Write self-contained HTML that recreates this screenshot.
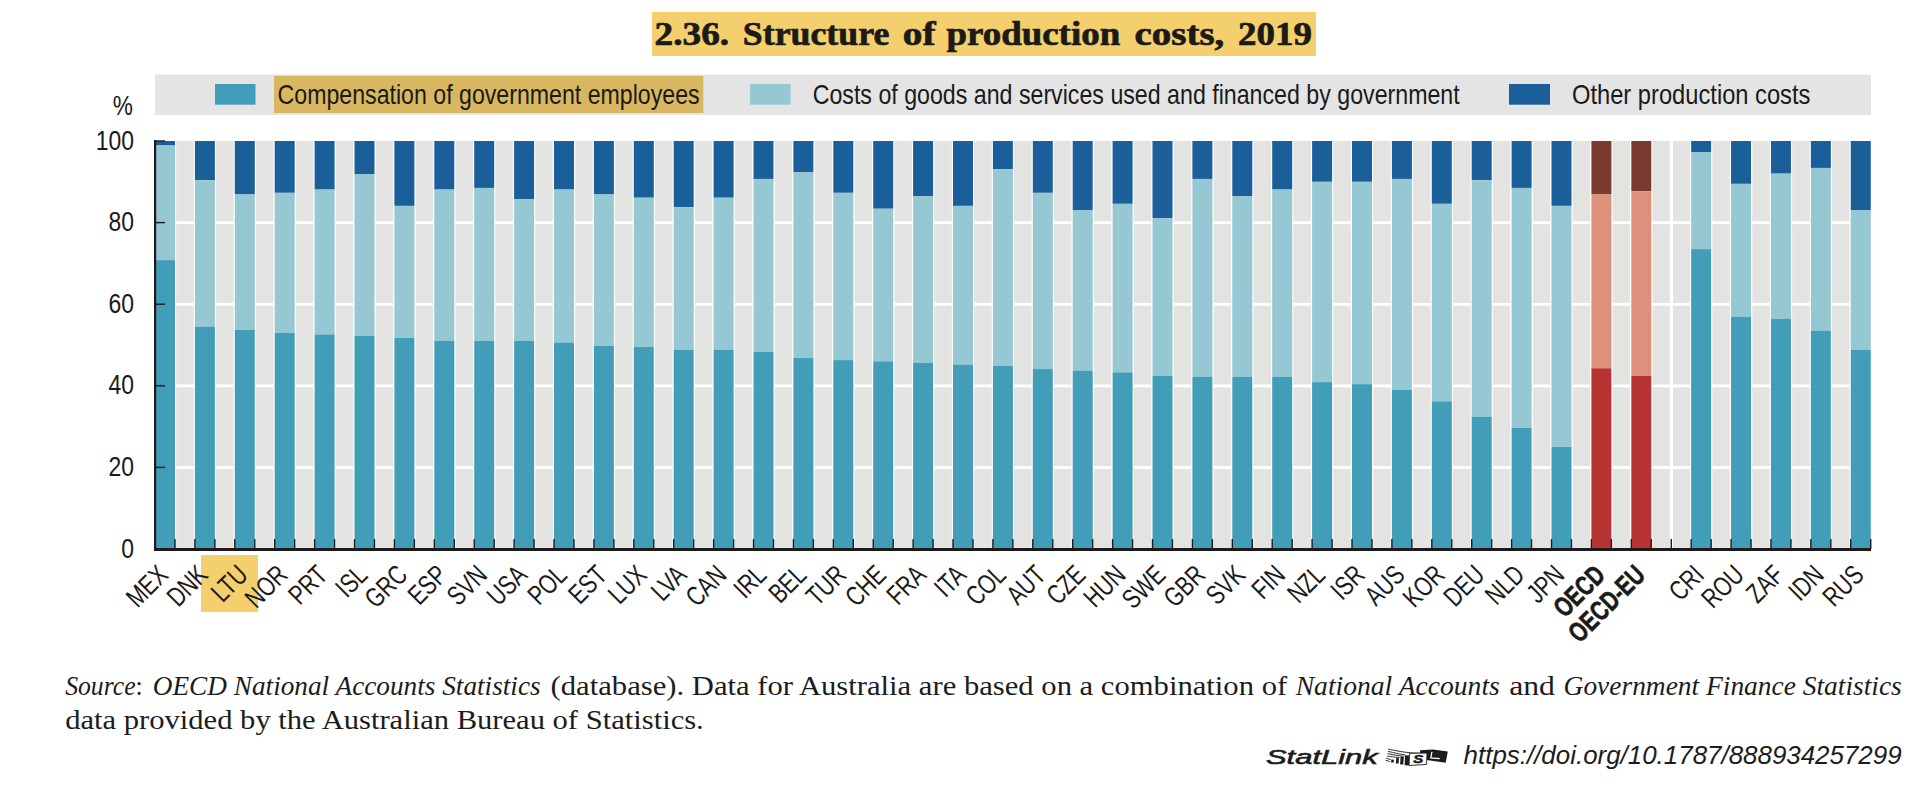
<!DOCTYPE html>
<html><head><meta charset="utf-8"><style>
html,body{margin:0;padding:0;background:#fff;}
body{width:1928px;height:786px;overflow:hidden;position:relative;}
svg{position:absolute;left:0;top:0;}
.yl{font-family:"Liberation Sans",sans-serif;font-size:27px;fill:#1a1a1a;}
.xl{font-family:"Liberation Sans",sans-serif;font-size:27.5px;fill:#1a1a1a;}
.b{font-weight:bold;font-size:27.5px;stroke:#1a1a1a;stroke-width:0.6px;}
.lg{font-family:"Liberation Sans",sans-serif;font-size:28px;fill:#1a1a1a;}
.ti{font-family:"Liberation Serif",serif;font-size:34px;font-weight:bold;fill:#1c1a17;stroke:#1c1a17;stroke-width:0.7px;}
.src{font-family:"Liberation Serif",serif;font-size:27px;fill:#1c1c1c;}
.it{font-style:italic;}
.url{font-family:"Liberation Sans",sans-serif;font-style:italic;font-size:25px;fill:#1c1c1c;}
.sl{font-family:"Liberation Sans",sans-serif;font-style:italic;font-size:21px;fill:#1c1c1c;stroke:#1c1c1c;stroke-width:0.6px;}
</style></head><body>
<svg width="1928" height="786" viewBox="0 0 1928 786">
<rect x="652" y="12" width="664" height="44" fill="#f3cf6e"/>
<text class="ti" x="654.6" y="45.1" textLength="74.6" lengthAdjust="spacingAndGlyphs">2.36.</text>
<text class="ti" x="742.8" y="45.1" textLength="146.5" lengthAdjust="spacingAndGlyphs">Structure</text>
<text class="ti" x="902.8" y="45.1" textLength="32.7" lengthAdjust="spacingAndGlyphs">of</text>
<text class="ti" x="946.4" y="45.1" textLength="173.8" lengthAdjust="spacingAndGlyphs">production</text>
<text class="ti" x="1134.6" y="45.1" textLength="89.7" lengthAdjust="spacingAndGlyphs">costs,</text>
<text class="ti" x="1238.1" y="45.1" textLength="73.9" lengthAdjust="spacingAndGlyphs">2019</text>

<rect x="155" y="74.5" width="1716" height="40.5" fill="#e4e4e4"/>
<rect x="215" y="84" width="40.5" height="20.7" fill="#429db8"/>
<rect x="274" y="76" width="429.3" height="37" fill="#d9b760"/>
<rect x="750" y="84" width="40.6" height="20.7" fill="#95c8d3"/>
<rect x="1509" y="84" width="41" height="20.7" fill="#1a5e9a"/>
<text class="lg" x="277.6" y="104.4" textLength="422" lengthAdjust="spacingAndGlyphs">Compensation of government employees</text>
<text class="lg" x="812.7" y="104.4" textLength="647" lengthAdjust="spacingAndGlyphs">Costs of goods and services used and financed by government</text>
<text class="lg" x="1572" y="104.4" textLength="238.4" lengthAdjust="spacingAndGlyphs">Other production costs</text>
<rect x="155" y="141.0" width="1716" height="408.0" fill="#e3e3e2"/>
<rect x="155" y="466.10" width="1716" height="2.8" fill="#fff"/>
<rect x="155" y="384.50" width="1716" height="2.8" fill="#fff"/>
<rect x="155" y="302.90" width="1716" height="2.8" fill="#fff"/>
<rect x="155" y="221.30" width="1716" height="2.8" fill="#fff"/>
<rect x="1670.00" y="141.0" width="3" height="408.0" fill="#fff"/>
<rect x="153.80" y="141.0" width="22.40" height="408.0" fill="#fff"/>
<rect x="155.00" y="141.0" width="20.0" height="4.49" fill="#1a5e9a"/>
<rect x="155.00" y="145.49" width="20.0" height="114.65" fill="#95c8d3"/>
<rect x="155.00" y="260.14" width="20.0" height="288.86" fill="#429db8"/>
<rect x="193.70" y="141.0" width="22.40" height="408.0" fill="#fff"/>
<rect x="194.90" y="141.0" width="20.0" height="39.17" fill="#1a5e9a"/>
<rect x="194.90" y="180.17" width="20.0" height="146.47" fill="#95c8d3"/>
<rect x="194.90" y="326.64" width="20.0" height="222.36" fill="#429db8"/>
<rect x="233.60" y="141.0" width="22.40" height="408.0" fill="#fff"/>
<rect x="234.80" y="141.0" width="20.0" height="53.45" fill="#1a5e9a"/>
<rect x="234.80" y="194.45" width="20.0" height="135.46" fill="#95c8d3"/>
<rect x="234.80" y="329.90" width="20.0" height="219.10" fill="#429db8"/>
<rect x="273.50" y="141.0" width="22.40" height="408.0" fill="#fff"/>
<rect x="274.70" y="141.0" width="20.0" height="51.82" fill="#1a5e9a"/>
<rect x="274.70" y="192.82" width="20.0" height="139.94" fill="#95c8d3"/>
<rect x="274.70" y="332.76" width="20.0" height="216.24" fill="#429db8"/>
<rect x="313.40" y="141.0" width="22.40" height="408.0" fill="#fff"/>
<rect x="314.60" y="141.0" width="20.0" height="48.55" fill="#1a5e9a"/>
<rect x="314.60" y="189.55" width="20.0" height="144.84" fill="#95c8d3"/>
<rect x="314.60" y="334.39" width="20.0" height="214.61" fill="#429db8"/>
<rect x="353.30" y="141.0" width="22.40" height="408.0" fill="#fff"/>
<rect x="354.50" y="141.0" width="20.0" height="33.05" fill="#1a5e9a"/>
<rect x="354.50" y="174.05" width="20.0" height="161.98" fill="#95c8d3"/>
<rect x="354.50" y="336.02" width="20.0" height="212.98" fill="#429db8"/>
<rect x="393.20" y="141.0" width="22.40" height="408.0" fill="#fff"/>
<rect x="394.40" y="141.0" width="20.0" height="64.87" fill="#1a5e9a"/>
<rect x="394.40" y="205.87" width="20.0" height="131.78" fill="#95c8d3"/>
<rect x="394.40" y="337.66" width="20.0" height="211.34" fill="#429db8"/>
<rect x="433.10" y="141.0" width="22.40" height="408.0" fill="#fff"/>
<rect x="434.30" y="141.0" width="20.0" height="48.55" fill="#1a5e9a"/>
<rect x="434.30" y="189.55" width="20.0" height="151.37" fill="#95c8d3"/>
<rect x="434.30" y="340.92" width="20.0" height="208.08" fill="#429db8"/>
<rect x="473.00" y="141.0" width="22.40" height="408.0" fill="#fff"/>
<rect x="474.20" y="141.0" width="20.0" height="46.92" fill="#1a5e9a"/>
<rect x="474.20" y="187.92" width="20.0" height="153.00" fill="#95c8d3"/>
<rect x="474.20" y="340.92" width="20.0" height="208.08" fill="#429db8"/>
<rect x="512.90" y="141.0" width="22.40" height="408.0" fill="#fff"/>
<rect x="514.10" y="141.0" width="20.0" height="58.34" fill="#1a5e9a"/>
<rect x="514.10" y="199.34" width="20.0" height="141.58" fill="#95c8d3"/>
<rect x="514.10" y="340.92" width="20.0" height="208.08" fill="#429db8"/>
<rect x="552.80" y="141.0" width="22.40" height="408.0" fill="#fff"/>
<rect x="554.00" y="141.0" width="20.0" height="48.55" fill="#1a5e9a"/>
<rect x="554.00" y="189.55" width="20.0" height="153.00" fill="#95c8d3"/>
<rect x="554.00" y="342.55" width="20.0" height="206.45" fill="#429db8"/>
<rect x="592.70" y="141.0" width="22.40" height="408.0" fill="#fff"/>
<rect x="593.90" y="141.0" width="20.0" height="53.45" fill="#1a5e9a"/>
<rect x="593.90" y="194.45" width="20.0" height="151.37" fill="#95c8d3"/>
<rect x="593.90" y="345.82" width="20.0" height="203.18" fill="#429db8"/>
<rect x="632.60" y="141.0" width="22.40" height="408.0" fill="#fff"/>
<rect x="633.80" y="141.0" width="20.0" height="56.71" fill="#1a5e9a"/>
<rect x="633.80" y="197.71" width="20.0" height="149.33" fill="#95c8d3"/>
<rect x="633.80" y="347.04" width="20.0" height="201.96" fill="#429db8"/>
<rect x="672.50" y="141.0" width="22.40" height="408.0" fill="#fff"/>
<rect x="673.70" y="141.0" width="20.0" height="66.10" fill="#1a5e9a"/>
<rect x="673.70" y="207.10" width="20.0" height="142.80" fill="#95c8d3"/>
<rect x="673.70" y="349.90" width="20.0" height="199.10" fill="#429db8"/>
<rect x="712.40" y="141.0" width="22.40" height="408.0" fill="#fff"/>
<rect x="713.60" y="141.0" width="20.0" height="56.71" fill="#1a5e9a"/>
<rect x="713.60" y="197.71" width="20.0" height="152.18" fill="#95c8d3"/>
<rect x="713.60" y="349.90" width="20.0" height="199.10" fill="#429db8"/>
<rect x="752.30" y="141.0" width="22.40" height="408.0" fill="#fff"/>
<rect x="753.50" y="141.0" width="20.0" height="37.94" fill="#1a5e9a"/>
<rect x="753.50" y="178.94" width="20.0" height="172.99" fill="#95c8d3"/>
<rect x="753.50" y="351.94" width="20.0" height="197.06" fill="#429db8"/>
<rect x="792.20" y="141.0" width="22.40" height="408.0" fill="#fff"/>
<rect x="793.40" y="141.0" width="20.0" height="31.42" fill="#1a5e9a"/>
<rect x="793.40" y="172.42" width="20.0" height="185.64" fill="#95c8d3"/>
<rect x="793.40" y="358.06" width="20.0" height="190.94" fill="#429db8"/>
<rect x="832.10" y="141.0" width="22.40" height="408.0" fill="#fff"/>
<rect x="833.30" y="141.0" width="20.0" height="51.82" fill="#1a5e9a"/>
<rect x="833.30" y="192.82" width="20.0" height="167.28" fill="#95c8d3"/>
<rect x="833.30" y="360.10" width="20.0" height="188.90" fill="#429db8"/>
<rect x="872.00" y="141.0" width="22.40" height="408.0" fill="#fff"/>
<rect x="873.20" y="141.0" width="20.0" height="67.73" fill="#1a5e9a"/>
<rect x="873.20" y="208.73" width="20.0" height="152.59" fill="#95c8d3"/>
<rect x="873.20" y="361.32" width="20.0" height="187.68" fill="#429db8"/>
<rect x="911.90" y="141.0" width="22.40" height="408.0" fill="#fff"/>
<rect x="913.10" y="141.0" width="20.0" height="55.08" fill="#1a5e9a"/>
<rect x="913.10" y="196.08" width="20.0" height="166.87" fill="#95c8d3"/>
<rect x="913.10" y="362.95" width="20.0" height="186.05" fill="#429db8"/>
<rect x="951.80" y="141.0" width="22.40" height="408.0" fill="#fff"/>
<rect x="953.00" y="141.0" width="20.0" height="64.87" fill="#1a5e9a"/>
<rect x="953.00" y="205.87" width="20.0" height="158.71" fill="#95c8d3"/>
<rect x="953.00" y="364.58" width="20.0" height="184.42" fill="#429db8"/>
<rect x="991.70" y="141.0" width="22.40" height="408.0" fill="#fff"/>
<rect x="992.90" y="141.0" width="20.0" height="28.15" fill="#1a5e9a"/>
<rect x="992.90" y="169.15" width="20.0" height="196.66" fill="#95c8d3"/>
<rect x="992.90" y="365.81" width="20.0" height="183.19" fill="#429db8"/>
<rect x="1031.60" y="141.0" width="22.40" height="408.0" fill="#fff"/>
<rect x="1032.80" y="141.0" width="20.0" height="51.82" fill="#1a5e9a"/>
<rect x="1032.80" y="192.82" width="20.0" height="176.26" fill="#95c8d3"/>
<rect x="1032.80" y="369.07" width="20.0" height="179.93" fill="#429db8"/>
<rect x="1071.50" y="141.0" width="22.40" height="408.0" fill="#fff"/>
<rect x="1072.70" y="141.0" width="20.0" height="69.36" fill="#1a5e9a"/>
<rect x="1072.70" y="210.36" width="20.0" height="160.34" fill="#95c8d3"/>
<rect x="1072.70" y="370.70" width="20.0" height="178.30" fill="#429db8"/>
<rect x="1111.40" y="141.0" width="22.40" height="408.0" fill="#fff"/>
<rect x="1112.60" y="141.0" width="20.0" height="62.83" fill="#1a5e9a"/>
<rect x="1112.60" y="203.83" width="20.0" height="168.50" fill="#95c8d3"/>
<rect x="1112.60" y="372.34" width="20.0" height="176.66" fill="#429db8"/>
<rect x="1151.30" y="141.0" width="22.40" height="408.0" fill="#fff"/>
<rect x="1152.50" y="141.0" width="20.0" height="77.11" fill="#1a5e9a"/>
<rect x="1152.50" y="218.11" width="20.0" height="157.90" fill="#95c8d3"/>
<rect x="1152.50" y="376.01" width="20.0" height="172.99" fill="#429db8"/>
<rect x="1191.20" y="141.0" width="22.40" height="408.0" fill="#fff"/>
<rect x="1192.40" y="141.0" width="20.0" height="37.94" fill="#1a5e9a"/>
<rect x="1192.40" y="178.94" width="20.0" height="197.88" fill="#95c8d3"/>
<rect x="1192.40" y="376.82" width="20.0" height="172.18" fill="#429db8"/>
<rect x="1231.10" y="141.0" width="22.40" height="408.0" fill="#fff"/>
<rect x="1232.30" y="141.0" width="20.0" height="55.08" fill="#1a5e9a"/>
<rect x="1232.30" y="196.08" width="20.0" height="180.74" fill="#95c8d3"/>
<rect x="1232.30" y="376.82" width="20.0" height="172.18" fill="#429db8"/>
<rect x="1271.00" y="141.0" width="22.40" height="408.0" fill="#fff"/>
<rect x="1272.20" y="141.0" width="20.0" height="48.55" fill="#1a5e9a"/>
<rect x="1272.20" y="189.55" width="20.0" height="187.27" fill="#95c8d3"/>
<rect x="1272.20" y="376.82" width="20.0" height="172.18" fill="#429db8"/>
<rect x="1310.90" y="141.0" width="22.40" height="408.0" fill="#fff"/>
<rect x="1312.10" y="141.0" width="20.0" height="40.80" fill="#1a5e9a"/>
<rect x="1312.10" y="181.80" width="20.0" height="200.33" fill="#95c8d3"/>
<rect x="1312.10" y="382.13" width="20.0" height="166.87" fill="#429db8"/>
<rect x="1350.80" y="141.0" width="22.40" height="408.0" fill="#fff"/>
<rect x="1352.00" y="141.0" width="20.0" height="40.80" fill="#1a5e9a"/>
<rect x="1352.00" y="181.80" width="20.0" height="202.37" fill="#95c8d3"/>
<rect x="1352.00" y="384.17" width="20.0" height="164.83" fill="#429db8"/>
<rect x="1390.70" y="141.0" width="22.40" height="408.0" fill="#fff"/>
<rect x="1391.90" y="141.0" width="20.0" height="37.94" fill="#1a5e9a"/>
<rect x="1391.90" y="178.94" width="20.0" height="210.94" fill="#95c8d3"/>
<rect x="1391.90" y="389.88" width="20.0" height="159.12" fill="#429db8"/>
<rect x="1430.60" y="141.0" width="22.40" height="408.0" fill="#fff"/>
<rect x="1431.80" y="141.0" width="20.0" height="62.83" fill="#1a5e9a"/>
<rect x="1431.80" y="203.83" width="20.0" height="197.47" fill="#95c8d3"/>
<rect x="1431.80" y="401.30" width="20.0" height="147.70" fill="#429db8"/>
<rect x="1470.50" y="141.0" width="22.40" height="408.0" fill="#fff"/>
<rect x="1471.70" y="141.0" width="20.0" height="39.17" fill="#1a5e9a"/>
<rect x="1471.70" y="180.17" width="20.0" height="236.64" fill="#95c8d3"/>
<rect x="1471.70" y="416.81" width="20.0" height="132.19" fill="#429db8"/>
<rect x="1510.40" y="141.0" width="22.40" height="408.0" fill="#fff"/>
<rect x="1511.60" y="141.0" width="20.0" height="46.92" fill="#1a5e9a"/>
<rect x="1511.60" y="187.92" width="20.0" height="239.90" fill="#95c8d3"/>
<rect x="1511.60" y="427.82" width="20.0" height="121.18" fill="#429db8"/>
<rect x="1550.30" y="141.0" width="22.40" height="408.0" fill="#fff"/>
<rect x="1551.50" y="141.0" width="20.0" height="64.87" fill="#1a5e9a"/>
<rect x="1551.50" y="205.87" width="20.0" height="241.13" fill="#95c8d3"/>
<rect x="1551.50" y="447.00" width="20.0" height="102.00" fill="#429db8"/>
<rect x="1590.20" y="141.0" width="22.40" height="408.0" fill="#fff"/>
<rect x="1591.40" y="141.0" width="20.0" height="53.45" fill="#793b2f"/>
<rect x="1591.40" y="194.45" width="20.0" height="173.81" fill="#de917a"/>
<rect x="1591.40" y="368.26" width="20.0" height="180.74" fill="#b83434"/>
<rect x="1630.10" y="141.0" width="22.40" height="408.0" fill="#fff"/>
<rect x="1631.30" y="141.0" width="20.0" height="50.18" fill="#793b2f"/>
<rect x="1631.30" y="191.18" width="20.0" height="184.82" fill="#de917a"/>
<rect x="1631.30" y="376.01" width="20.0" height="172.99" fill="#b83434"/>
<rect x="1689.95" y="141.0" width="22.40" height="408.0" fill="#fff"/>
<rect x="1691.15" y="141.0" width="20.0" height="11.02" fill="#1a5e9a"/>
<rect x="1691.15" y="152.02" width="20.0" height="97.10" fill="#95c8d3"/>
<rect x="1691.15" y="249.12" width="20.0" height="299.88" fill="#429db8"/>
<rect x="1729.85" y="141.0" width="22.40" height="408.0" fill="#fff"/>
<rect x="1731.05" y="141.0" width="20.0" height="42.84" fill="#1a5e9a"/>
<rect x="1731.05" y="183.84" width="20.0" height="133.01" fill="#95c8d3"/>
<rect x="1731.05" y="316.85" width="20.0" height="232.15" fill="#429db8"/>
<rect x="1769.75" y="141.0" width="22.40" height="408.0" fill="#fff"/>
<rect x="1770.95" y="141.0" width="20.0" height="32.64" fill="#1a5e9a"/>
<rect x="1770.95" y="173.64" width="20.0" height="145.25" fill="#95c8d3"/>
<rect x="1770.95" y="318.89" width="20.0" height="230.11" fill="#429db8"/>
<rect x="1809.65" y="141.0" width="22.40" height="408.0" fill="#fff"/>
<rect x="1810.85" y="141.0" width="20.0" height="26.93" fill="#1a5e9a"/>
<rect x="1810.85" y="167.93" width="20.0" height="162.79" fill="#95c8d3"/>
<rect x="1810.85" y="330.72" width="20.0" height="218.28" fill="#429db8"/>
<rect x="1849.55" y="141.0" width="22.40" height="408.0" fill="#fff"/>
<rect x="1850.75" y="141.0" width="20.0" height="69.36" fill="#1a5e9a"/>
<rect x="1850.75" y="210.36" width="20.0" height="139.54" fill="#95c8d3"/>
<rect x="1850.75" y="349.90" width="20.0" height="199.10" fill="#429db8"/>
<rect x="154.30" y="539" width="1.4" height="10" fill="#1d1b19"/>
<rect x="174.30" y="539" width="1.4" height="10" fill="#1d1b19"/>
<rect x="194.20" y="539" width="1.4" height="10" fill="#1d1b19"/>
<rect x="214.20" y="539" width="1.4" height="10" fill="#1d1b19"/>
<rect x="234.10" y="539" width="1.4" height="10" fill="#1d1b19"/>
<rect x="254.10" y="539" width="1.4" height="10" fill="#1d1b19"/>
<rect x="274.00" y="539" width="1.4" height="10" fill="#1d1b19"/>
<rect x="294.00" y="539" width="1.4" height="10" fill="#1d1b19"/>
<rect x="313.90" y="539" width="1.4" height="10" fill="#1d1b19"/>
<rect x="333.90" y="539" width="1.4" height="10" fill="#1d1b19"/>
<rect x="353.80" y="539" width="1.4" height="10" fill="#1d1b19"/>
<rect x="373.80" y="539" width="1.4" height="10" fill="#1d1b19"/>
<rect x="393.70" y="539" width="1.4" height="10" fill="#1d1b19"/>
<rect x="413.70" y="539" width="1.4" height="10" fill="#1d1b19"/>
<rect x="433.60" y="539" width="1.4" height="10" fill="#1d1b19"/>
<rect x="453.60" y="539" width="1.4" height="10" fill="#1d1b19"/>
<rect x="473.50" y="539" width="1.4" height="10" fill="#1d1b19"/>
<rect x="493.50" y="539" width="1.4" height="10" fill="#1d1b19"/>
<rect x="513.40" y="539" width="1.4" height="10" fill="#1d1b19"/>
<rect x="533.40" y="539" width="1.4" height="10" fill="#1d1b19"/>
<rect x="553.30" y="539" width="1.4" height="10" fill="#1d1b19"/>
<rect x="573.30" y="539" width="1.4" height="10" fill="#1d1b19"/>
<rect x="593.20" y="539" width="1.4" height="10" fill="#1d1b19"/>
<rect x="613.20" y="539" width="1.4" height="10" fill="#1d1b19"/>
<rect x="633.10" y="539" width="1.4" height="10" fill="#1d1b19"/>
<rect x="653.10" y="539" width="1.4" height="10" fill="#1d1b19"/>
<rect x="673.00" y="539" width="1.4" height="10" fill="#1d1b19"/>
<rect x="693.00" y="539" width="1.4" height="10" fill="#1d1b19"/>
<rect x="712.90" y="539" width="1.4" height="10" fill="#1d1b19"/>
<rect x="732.90" y="539" width="1.4" height="10" fill="#1d1b19"/>
<rect x="752.80" y="539" width="1.4" height="10" fill="#1d1b19"/>
<rect x="772.80" y="539" width="1.4" height="10" fill="#1d1b19"/>
<rect x="792.70" y="539" width="1.4" height="10" fill="#1d1b19"/>
<rect x="812.70" y="539" width="1.4" height="10" fill="#1d1b19"/>
<rect x="832.60" y="539" width="1.4" height="10" fill="#1d1b19"/>
<rect x="852.60" y="539" width="1.4" height="10" fill="#1d1b19"/>
<rect x="872.50" y="539" width="1.4" height="10" fill="#1d1b19"/>
<rect x="892.50" y="539" width="1.4" height="10" fill="#1d1b19"/>
<rect x="912.40" y="539" width="1.4" height="10" fill="#1d1b19"/>
<rect x="932.40" y="539" width="1.4" height="10" fill="#1d1b19"/>
<rect x="952.30" y="539" width="1.4" height="10" fill="#1d1b19"/>
<rect x="972.30" y="539" width="1.4" height="10" fill="#1d1b19"/>
<rect x="992.20" y="539" width="1.4" height="10" fill="#1d1b19"/>
<rect x="1012.20" y="539" width="1.4" height="10" fill="#1d1b19"/>
<rect x="1032.10" y="539" width="1.4" height="10" fill="#1d1b19"/>
<rect x="1052.10" y="539" width="1.4" height="10" fill="#1d1b19"/>
<rect x="1072.00" y="539" width="1.4" height="10" fill="#1d1b19"/>
<rect x="1092.00" y="539" width="1.4" height="10" fill="#1d1b19"/>
<rect x="1111.90" y="539" width="1.4" height="10" fill="#1d1b19"/>
<rect x="1131.90" y="539" width="1.4" height="10" fill="#1d1b19"/>
<rect x="1151.80" y="539" width="1.4" height="10" fill="#1d1b19"/>
<rect x="1171.80" y="539" width="1.4" height="10" fill="#1d1b19"/>
<rect x="1191.70" y="539" width="1.4" height="10" fill="#1d1b19"/>
<rect x="1211.70" y="539" width="1.4" height="10" fill="#1d1b19"/>
<rect x="1231.60" y="539" width="1.4" height="10" fill="#1d1b19"/>
<rect x="1251.60" y="539" width="1.4" height="10" fill="#1d1b19"/>
<rect x="1271.50" y="539" width="1.4" height="10" fill="#1d1b19"/>
<rect x="1291.50" y="539" width="1.4" height="10" fill="#1d1b19"/>
<rect x="1311.40" y="539" width="1.4" height="10" fill="#1d1b19"/>
<rect x="1331.40" y="539" width="1.4" height="10" fill="#1d1b19"/>
<rect x="1351.30" y="539" width="1.4" height="10" fill="#1d1b19"/>
<rect x="1371.30" y="539" width="1.4" height="10" fill="#1d1b19"/>
<rect x="1391.20" y="539" width="1.4" height="10" fill="#1d1b19"/>
<rect x="1411.20" y="539" width="1.4" height="10" fill="#1d1b19"/>
<rect x="1431.10" y="539" width="1.4" height="10" fill="#1d1b19"/>
<rect x="1451.10" y="539" width="1.4" height="10" fill="#1d1b19"/>
<rect x="1471.00" y="539" width="1.4" height="10" fill="#1d1b19"/>
<rect x="1491.00" y="539" width="1.4" height="10" fill="#1d1b19"/>
<rect x="1510.90" y="539" width="1.4" height="10" fill="#1d1b19"/>
<rect x="1530.90" y="539" width="1.4" height="10" fill="#1d1b19"/>
<rect x="1550.80" y="539" width="1.4" height="10" fill="#1d1b19"/>
<rect x="1570.80" y="539" width="1.4" height="10" fill="#1d1b19"/>
<rect x="1590.70" y="539" width="1.4" height="10" fill="#1d1b19"/>
<rect x="1610.70" y="539" width="1.4" height="10" fill="#1d1b19"/>
<rect x="1630.60" y="539" width="1.4" height="10" fill="#1d1b19"/>
<rect x="1650.60" y="539" width="1.4" height="10" fill="#1d1b19"/>
<rect x="1670.60" y="539" width="1.4" height="10" fill="#1d1b19"/>
<rect x="1690.45" y="539" width="1.4" height="10" fill="#1d1b19"/>
<rect x="1710.45" y="539" width="1.4" height="10" fill="#1d1b19"/>
<rect x="1730.35" y="539" width="1.4" height="10" fill="#1d1b19"/>
<rect x="1750.35" y="539" width="1.4" height="10" fill="#1d1b19"/>
<rect x="1770.25" y="539" width="1.4" height="10" fill="#1d1b19"/>
<rect x="1790.25" y="539" width="1.4" height="10" fill="#1d1b19"/>
<rect x="1810.15" y="539" width="1.4" height="10" fill="#1d1b19"/>
<rect x="1830.15" y="539" width="1.4" height="10" fill="#1d1b19"/>
<rect x="1850.05" y="539" width="1.4" height="10" fill="#1d1b19"/>
<rect x="1870.05" y="539" width="1.4" height="10" fill="#1d1b19"/>
<rect x="155" y="548.30" width="10" height="1.4" fill="#1d1b19"/>
<rect x="155" y="466.70" width="10" height="1.4" fill="#1d1b19"/>
<rect x="155" y="385.10" width="10" height="1.4" fill="#1d1b19"/>
<rect x="155" y="303.50" width="10" height="1.4" fill="#1d1b19"/>
<rect x="155" y="221.90" width="10" height="1.4" fill="#1d1b19"/>
<rect x="155" y="140.30" width="10" height="1.4" fill="#1d1b19"/>
<rect x="154" y="140" width="2.2" height="411" fill="#1d1b19"/>
<rect x="154" y="548" width="1717" height="3" fill="#1d1b19"/>
<text x="134" y="557.7" text-anchor="end" class="yl" transform="translate(134 0) scale(0.85 1) translate(-134 0)">0</text>
<text x="134" y="476.1" text-anchor="end" class="yl" transform="translate(134 0) scale(0.85 1) translate(-134 0)">20</text>
<text x="134" y="394.5" text-anchor="end" class="yl" transform="translate(134 0) scale(0.85 1) translate(-134 0)">40</text>
<text x="134" y="312.9" text-anchor="end" class="yl" transform="translate(134 0) scale(0.85 1) translate(-134 0)">60</text>
<text x="134" y="231.3" text-anchor="end" class="yl" transform="translate(134 0) scale(0.85 1) translate(-134 0)">80</text>
<text x="134" y="149.7" text-anchor="end" class="yl" transform="translate(134 0) scale(0.85 1) translate(-134 0)">100</text>
<text x="133" y="115" text-anchor="end" class="yl" transform="translate(133 0) scale(0.84 1) translate(-133 0)">%</text>
<rect x="201" y="555" width="57" height="57" fill="#f3cf6e"/>
<text class="xl" text-anchor="end" transform="translate(169.50 576.7) rotate(-45) scale(0.76 1)">MEX</text>
<text class="xl" text-anchor="end" transform="translate(209.40 576.7) rotate(-45) scale(0.76 1)">DNK</text>
<text class="xl" text-anchor="end" transform="translate(249.30 576.7) rotate(-45) scale(0.76 1)">LTU</text>
<text class="xl" text-anchor="end" transform="translate(289.20 576.7) rotate(-45) scale(0.76 1)">NOR</text>
<text class="xl" text-anchor="end" transform="translate(329.10 576.7) rotate(-45) scale(0.76 1)">PRT</text>
<text class="xl" text-anchor="end" transform="translate(369.00 576.7) rotate(-45) scale(0.76 1)">ISL</text>
<text class="xl" text-anchor="end" transform="translate(408.90 576.7) rotate(-45) scale(0.76 1)">GRC</text>
<text class="xl" text-anchor="end" transform="translate(448.80 576.7) rotate(-45) scale(0.76 1)">ESP</text>
<text class="xl" text-anchor="end" transform="translate(488.70 576.7) rotate(-45) scale(0.76 1)">SVN</text>
<text class="xl" text-anchor="end" transform="translate(528.60 576.7) rotate(-45) scale(0.76 1)">USA</text>
<text class="xl" text-anchor="end" transform="translate(568.50 576.7) rotate(-45) scale(0.76 1)">POL</text>
<text class="xl" text-anchor="end" transform="translate(608.40 576.7) rotate(-45) scale(0.76 1)">EST</text>
<text class="xl" text-anchor="end" transform="translate(648.30 576.7) rotate(-45) scale(0.76 1)">LUX</text>
<text class="xl" text-anchor="end" transform="translate(688.20 576.7) rotate(-45) scale(0.76 1)">LVA</text>
<text class="xl" text-anchor="end" transform="translate(728.10 576.7) rotate(-45) scale(0.76 1)">CAN</text>
<text class="xl" text-anchor="end" transform="translate(768.00 576.7) rotate(-45) scale(0.76 1)">IRL</text>
<text class="xl" text-anchor="end" transform="translate(807.90 576.7) rotate(-45) scale(0.76 1)">BEL</text>
<text class="xl" text-anchor="end" transform="translate(847.80 576.7) rotate(-45) scale(0.76 1)">TUR</text>
<text class="xl" text-anchor="end" transform="translate(887.70 576.7) rotate(-45) scale(0.76 1)">CHE</text>
<text class="xl" text-anchor="end" transform="translate(927.60 576.7) rotate(-45) scale(0.76 1)">FRA</text>
<text class="xl" text-anchor="end" transform="translate(967.50 576.7) rotate(-45) scale(0.76 1)">ITA</text>
<text class="xl" text-anchor="end" transform="translate(1007.40 576.7) rotate(-45) scale(0.76 1)">COL</text>
<text class="xl" text-anchor="end" transform="translate(1047.30 576.7) rotate(-45) scale(0.76 1)">AUT</text>
<text class="xl" text-anchor="end" transform="translate(1087.20 576.7) rotate(-45) scale(0.76 1)">CZE</text>
<text class="xl" text-anchor="end" transform="translate(1127.10 576.7) rotate(-45) scale(0.76 1)">HUN</text>
<text class="xl" text-anchor="end" transform="translate(1167.00 576.7) rotate(-45) scale(0.76 1)">SWE</text>
<text class="xl" text-anchor="end" transform="translate(1206.90 576.7) rotate(-45) scale(0.76 1)">GBR</text>
<text class="xl" text-anchor="end" transform="translate(1246.80 576.7) rotate(-45) scale(0.76 1)">SVK</text>
<text class="xl" text-anchor="end" transform="translate(1286.70 576.7) rotate(-45) scale(0.76 1)">FIN</text>
<text class="xl" text-anchor="end" transform="translate(1326.60 576.7) rotate(-45) scale(0.76 1)">NZL</text>
<text class="xl" text-anchor="end" transform="translate(1366.50 576.7) rotate(-45) scale(0.76 1)">ISR</text>
<text class="xl" text-anchor="end" transform="translate(1406.40 576.7) rotate(-45) scale(0.76 1)">AUS</text>
<text class="xl" text-anchor="end" transform="translate(1446.30 576.7) rotate(-45) scale(0.76 1)">KOR</text>
<text class="xl" text-anchor="end" transform="translate(1486.20 576.7) rotate(-45) scale(0.76 1)">DEU</text>
<text class="xl" text-anchor="end" transform="translate(1526.10 576.7) rotate(-45) scale(0.76 1)">NLD</text>
<text class="xl" text-anchor="end" transform="translate(1566.00 576.7) rotate(-45) scale(0.76 1)">JPN</text>
<text class="xl b" text-anchor="end" transform="translate(1606.90 576.7) rotate(-45) scale(0.75 1)">OECD</text>
<text class="xl b" text-anchor="end" transform="translate(1646.80 576.7) rotate(-45) scale(0.75 1)">OECD-EU</text>
<text class="xl" text-anchor="end" transform="translate(1705.65 576.7) rotate(-45) scale(0.76 1)">CRI</text>
<text class="xl" text-anchor="end" transform="translate(1745.55 576.7) rotate(-45) scale(0.76 1)">ROU</text>
<text class="xl" text-anchor="end" transform="translate(1785.45 576.7) rotate(-45) scale(0.76 1)">ZAF</text>
<text class="xl" text-anchor="end" transform="translate(1825.35 576.7) rotate(-45) scale(0.76 1)">IDN</text>
<text class="xl" text-anchor="end" transform="translate(1865.25 576.7) rotate(-45) scale(0.76 1)">RUS</text>
<text class="src" x="65.2" y="694.6" textLength="77.5" lengthAdjust="spacingAndGlyphs"><tspan class="it">Source</tspan>:</text>
<text class="src it" x="152.8" y="694.6" textLength="387.8" lengthAdjust="spacingAndGlyphs">OECD National Accounts Statistics</text>
<text class="src" x="550.6" y="694.6" textLength="736.6" lengthAdjust="spacingAndGlyphs">(database). Data for Australia are based on a combination of</text>
<text class="src it" x="1295.7" y="694.6" textLength="204.1" lengthAdjust="spacingAndGlyphs">National Accounts</text>
<text class="src" x="1509.2" y="694.6" textLength="45.8" lengthAdjust="spacingAndGlyphs">and</text>
<text class="src it" x="1563.6" y="694.6" textLength="338.2" lengthAdjust="spacingAndGlyphs">Government Finance Statistics</text>
<text class="src" x="65.2" y="728.8" textLength="638.6" lengthAdjust="spacingAndGlyphs">data provided by the Australian Bureau of Statistics.</text>
<text class="sl" x="1266" y="763.9" textLength="111.7" lengthAdjust="spacingAndGlyphs">StatLink</text>
<g transform="translate(1380 744)" fill="#1c1c1c">
<g fill="none" stroke="#1c1c1c" stroke-width="0.9">
<path d="M8.2 5.1 C16 6.6 26 9.2 40.5 9.2"/><path d="M8 7.4 C14 8.6 19 10.2 25.4 10.9"/><path d="M7.5 9.6 C12 10.5 17 11.7 23.9 12.3"/><path d="M7.1 12 C10 12.5 14 13.2 19.4 13.5"/><path d="M6.3 14.3 L10.8 15.6"/><path d="M5.6 16.3 L9.7 17.5"/>
</g>
<path d="M11.4 15.6 L14 15.8 L13.6 18.6 L11 18.4Z"/>
<path d="M16.2 14.1 L19 14.3 L18.5 19.6 L15.8 19.4Z"/>
<path d="M20.6 12.6 L23.8 12.9 L23.2 20.6 L20.1 20.4Z"/>
<path d="M25 11.2 L29.6 11.5 L28.8 21.4 L24.6 21.2Z"/>
<path d="M40.1 6.2 L53 5.6 L67.8 7.5 L65.7 18.7 L46.7 16.1 L47 9.1 L40.1 9Z"/>
<path d="M51.9 7.8 L50.8 13.8 L59.7 14.6" fill="none" stroke="#fff" stroke-width="1.3"/>
<path d="M29.5 9.3 L47 9.1 L46.5 20.4 L29.1 21.5Z" fill="#fff" stroke="#1c1c1c" stroke-width="0.9"/>
<text x="38.3" y="18.8" font-family="Liberation Sans" font-weight="bold" font-style="italic" font-size="10" stroke="#1c1c1c" stroke-width="0.5" text-anchor="middle" transform="translate(38.3 0) scale(1.5 1) translate(-38.3 0)">S</text>
</g>
<text class="url" x="1463.6" y="763.5" textLength="438" lengthAdjust="spacingAndGlyphs">https://doi.org/10.1787/888934257299</text>
</svg>
</body></html>
